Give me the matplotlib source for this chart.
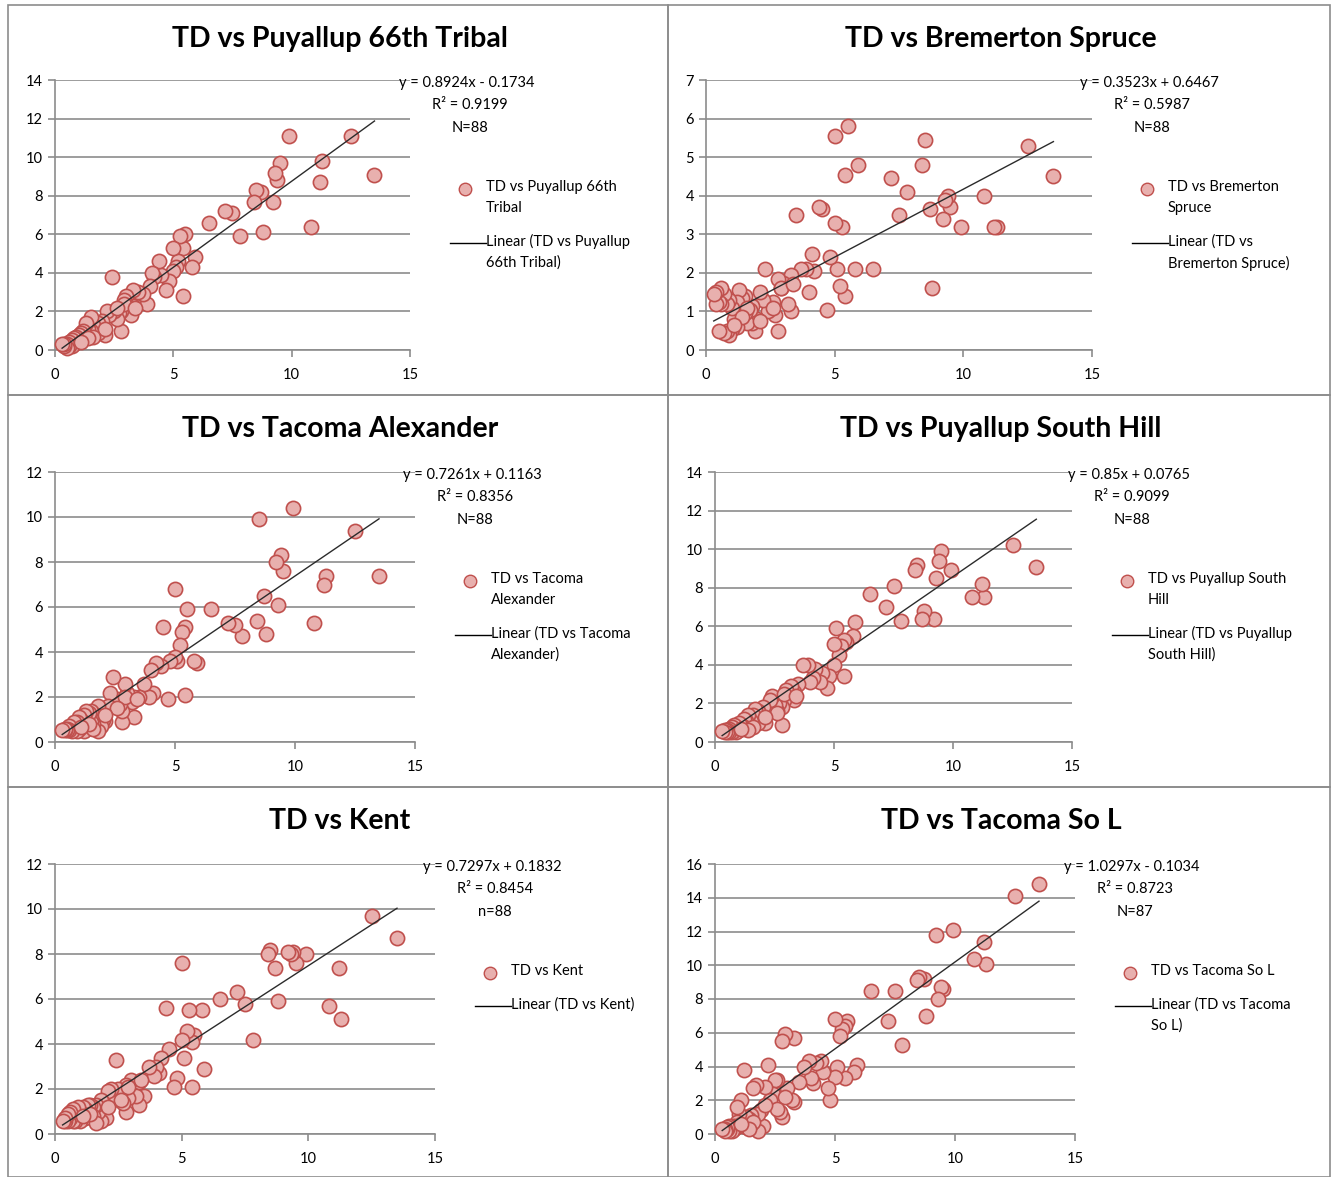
import numpy as np
import matplotlib
matplotlib.use("Agg")
import matplotlib.pyplot as plt
from matplotlib.patches import Rectangle
from matplotlib.lines import Line2D

plt.rcParams['font.family'] = ['Lato', 'DejaVu Sans']

# TD values shared by every station (x axis)
td = [13.5, 12.5, 11.3, 11.2, 10.8, 9.9, 9.5, 9.4, 9.3, 9.2,
      8.8, 8.7, 8.5, 8.4, 7.8, 7.5, 7.2, 6.5, 5.9, 5.8,
      5.5, 5.4, 5.4, 5.3, 5.2, 5.1, 5.0, 5.0, 4.8, 4.7,
      4.5, 4.4, 4.2, 4.1, 4.0, 3.9, 3.7, 3.5, 3.3, 3.3,
      3.2, 3.0, 2.9, 2.8, 2.8, 2.7, 2.6, 2.5, 2.4, 2.3,
      2.2, 2.1, 2.0, 1.9, 1.8, 1.8, 1.7, 1.6, 1.5, 1.5,
      1.4, 1.3, 1.3, 1.2, 1.2, 1.1, 1.0, 1.0, 0.9, 0.9,
      0.8, 0.8, 0.7, 0.7, 0.6, 0.6, 0.5, 0.5, 0.4, 0.4,
      2.9, 2.6, 2.1, 1.6, 1.4, 1.1, 0.3, 3.4]

puyallup_66th = [9.1, 11.1, 9.8, 8.7, 6.4, 11.1, 9.7, 8.8, 9.2, 7.7,
                 6.1, 8.2, 8.3, 7.7, 5.9, 7.1, 7.2, 6.6, 4.8, 4.3,
                 6.0, 5.3, 2.8, 5.9, 4.6, 4.3, 5.3, 4.1, 3.6, 3.1,
                 3.9, 4.6, 3.8, 4.0, 3.3, 2.4, 2.9, 3.0, 3.1, 2.3,
                 1.8, 2.8, 2.6, 1.0, 2.0, 1.9, 1.6, 2.0, 3.8, 1.8,
                 2.0, 0.8, 1.5, 1.2, 0.9, 1.4, 1.1, 1.3, 1.7, 1.0,
                 1.1, 0.8, 1.4, 1.0, 0.6, 0.9, 0.8, 0.5, 0.7, 0.4,
                 0.6, 0.3, 0.5, 0.2, 0.4, 0.2, 0.3, 0.1, 0.2, 0.3,
                 2.4, 2.2, 1.1, 0.7, 0.6, 0.4, 0.3, 2.2]

bremerton_spruce = [4.5, 5.3, 3.2, 3.2, 4.0, 3.2, 3.7, 4.0, 3.9, 3.4,
                    1.6, 3.65, 5.45, 4.8, 4.1, 3.5, 4.45, 2.1, 4.8, 2.1,
                    5.8, 4.55, 1.4, 3.2, 1.65, 2.1, 5.55, 3.3, 2.4, 1.05,
                    3.65, 3.7, 2.05, 2.5, 1.5, 2.1, 2.1, 3.5, 1.95, 1.0,
                    1.2, 1.75, 1.6, 0.5, 1.85, 0.9, 1.25, 1.1, 1.0, 2.1,
                    1.3, 1.5, 0.8, 0.5, 1.15, 0.7, 1.05, 0.7, 1.4, 0.95,
                    1.35, 1.55, 0.9, 1.25, 0.6, 0.8, 1.1, 0.55, 0.4, 1.3,
                    0.5, 1.2, 0.45, 1.45, 1.6, 1.2, 1.25, 0.5, 1.5, 1.2,
                    1.6, 1.1, 0.75, 1.1, 0.85, 0.65, 1.45, 1.7]

tacoma_alexander = [7.4, 9.4, 7.4, 7.0, 5.3, 10.4, 7.6, 8.3, 6.1, 8.0,
                    4.8, 6.5, 9.9, 5.4, 4.7, 5.2, 5.3, 5.9, 3.5, 3.6,
                    5.9, 5.1, 2.1, 4.9, 4.3, 3.6, 6.8, 3.8, 3.6, 1.9,
                    5.1, 3.4, 3.5, 2.2, 3.2, 2.0, 2.6, 2.0, 1.1, 2.0,
                    1.8, 2.2, 2.6, 0.9, 1.4, 1.7, 1.9, 1.8, 2.9, 2.2,
                    1.6, 0.95, 1.0, 0.7, 1.6, 0.5, 1.2, 0.8, 1.4, 0.9,
                    1.3, 1.4, 0.6, 1.2, 0.5, 1.0, 1.1, 0.6, 0.9, 0.5,
                    0.7, 0.9, 0.6, 0.5, 0.7, 0.55, 0.6, 0.55, 0.55, 0.6,
                    2.0, 1.5, 1.2, 0.6, 0.8, 0.65, 0.55, 1.9]

puyallup_south_hill = [9.1, 10.2, 7.5, 8.2, 7.5, 8.9, 9.9, 9.4, 8.5, 6.4,
                       6.8, 6.4, 9.2, 8.9, 6.3, 8.1, 7.0, 7.7, 6.2, 5.5,
                       5.2, 3.4, 5.3, 5.0, 4.5, 5.9, 5.1, 4.0, 3.4, 2.8,
                       3.6, 3.1, 3.8, 3.3, 3.1, 4.0, 4.0, 3.0, 2.6, 2.2,
                       2.9, 2.7, 2.2, 0.9, 1.8, 2.0, 1.6, 1.9, 2.4, 2.2,
                       1.5, 1.0, 1.8, 1.3, 1.6, 1.0, 1.7, 1.4, 1.1, 0.8,
                       1.4, 1.1, 0.7, 1.2, 0.8, 0.9, 1.0, 0.6, 0.8, 0.5,
                       0.9, 0.6, 0.8, 0.5, 0.7, 0.5, 0.6, 0.5, 0.6, 0.5,
                       2.5, 1.5, 1.3, 0.8, 0.6, 0.7, 0.55, 2.4]

kent = [8.7, 9.7, 5.1, 7.4, 5.7, 8.0, 7.6, 8.1, 8.0, 8.1,
        5.9, 7.4, 8.2, 8.0, 4.2, 5.8, 6.3, 6.0, 2.9, 5.5,
        4.4, 2.1, 4.1, 5.5, 4.6, 3.4, 7.6, 4.2, 2.5, 2.1,
        3.8, 5.6, 3.4, 2.7, 3.0, 2.6, 3.0, 1.7, 2.3, 1.3,
        1.7, 2.4, 1.6, 1.0, 2.2, 1.4, 1.9, 2.0, 3.3, 1.5,
        2.0, 1.9, 0.7, 1.4, 1.5, 0.6, 1.0, 1.3, 1.2, 0.8,
        1.3, 1.3, 0.9, 1.1, 0.7, 1.2, 1.0, 0.6, 0.8, 1.2,
        0.9, 0.6, 1.1, 0.6, 1.0, 0.7, 0.6, 0.9, 0.6, 0.7,
        2.1, 1.5, 1.2, 0.5, 0.9, 0.8, 0.6, 2.4]

tacoma_so_l = [14.8, 14.1, 10.1, 11.4, 10.4, 12.1, 8.6, 8.7, 8.0, 11.8,
               7.0, 9.2, 9.3, 9.1, 5.3, 8.5, 6.7, 8.5, 4.1, 3.7,
               6.7, 3.3, 6.4, 6.2, 5.8, 4.0, 6.8, 3.4, 2.0, 2.7,
               3.7, 4.3, 4.2, 3.0, 3.3, 4.3, 4.0, 3.1, 5.7, 1.9,
               2.0, 2.7, 5.9, 5.5, 1.0, 1.3, 3.2, 3.2, 2.4, 2.0,
               4.1, 2.8, 0.5, 1.4, 1.2, 0.2, 2.9, 2.7, 0.6, 1.1,
               0.9, 0.4, 1.0, 3.8, 0.5, 2.0, 1.2, 0.5, 0.7, 1.6,
               0.3, 0.5, 0.4, 0.2, 0.5, 0.2, 0.3, 0.4, 0.3, 0.2,
               2.2, 1.5, 1.7, 0.7, 0.3, 0.6, 0.3, np.nan]

titles = ["TD vs Puyallup 66th Tribal", "TD vs Bremerton Spruce",
          "TD vs Tacoma Alexander", "TD vs Puyallup South Hill",
          "TD vs Kent", "TD vs Tacoma So L"]
series = [puyallup_66th, bremerton_spruce, tacoma_alexander,
          puyallup_south_hill, kent, tacoma_so_l]
slopes = [0.8924, 0.3523, 0.7261, 0.85, 0.7297, 1.0297]
intercepts = [-0.1734, 0.6467, 0.1163, 0.0765, 0.1832, -0.1034]
eq_labels = ["y = 0.8924x - 0.1734", "y = 0.3523x + 0.6467", "y = 0.7261x + 0.1163",
             "y = 0.85x + 0.0765", "y = 0.7297x + 0.1832", "y = 1.0297x - 0.1034"]
r2_labels = ["R² = 0.9199", "R² = 0.5987", "R² = 0.8356",
             "R² = 0.9099", "R² = 0.8454", "R² = 0.8723"]
n_labels = ["N=88", "N=88", "N=88", "N=88", "n=88", "N=87"]
legend_names = ["TD vs Puyallup 66th\nTribal", "TD vs Bremerton\nSpruce",
                "TD vs Tacoma\nAlexander", "TD vs Puyallup South\nHill",
                "TD vs Kent", "TD vs Tacoma So L"]
line_names = ["Linear (TD vs Puyallup\n66th Tribal)", "Linear (TD vs\nBremerton Spruce)",
              "Linear (TD vs Tacoma\nAlexander)", "Linear (TD vs Puyallup\nSouth Hill)",
              "Linear (TD vs Kent)", "Linear (TD vs Tacoma\nSo L)"]
y_max = [14, 7, 12, 14, 12, 16]
y_step = [2, 1, 2, 2, 2, 2]

W, H = 1335, 1177
fig = plt.figure(figsize=(W / 100, H / 100), dpi=100)
fig.patch.set_facecolor("white")

# panel boxes (left, top, right, bottom) in pixels
boxes = [(8, 5, 668, 395), (668, 5, 1330, 395),
         (8, 395, 668, 787), (668, 395, 1330, 787),
         (8, 787, 668, 1177), (668, 787, 1330, 1177)]
# plot areas (x at 0, y top, x at 15, y bottom)
areas = [(55, 80, 410, 350), (706, 80, 1092, 350),
         (55, 472, 415, 742), (715, 472, 1072, 742),
         (55, 864, 435, 1134), (715, 864, 1075, 1134)]

for b in boxes:
    fig.patches.append(Rectangle((b[0] / W, 1 - b[3] / H), (b[2] - b[0]) / W, (b[3] - b[1]) / H,
                                 transform=fig.transFigure, fill=False,
                                 edgecolor="#8c8c8c", linewidth=1.2, zorder=0))

x = np.array(td)
for i in range(6):
    l, t, r, btm = areas[i]
    ax = fig.add_axes([l / W, 1 - btm / H, (r - l) / W, (btm - t) / H])
    y = np.array(series[i], dtype=float)
    ax.scatter(x, y, s=105, facecolor="#e8b0ae", edgecolor="#c0504d",
               linewidth=1.2, zorder=3, clip_on=False)
    xs = np.array([np.nanmin(x), np.nanmax(x)])
    ax.plot(xs, slopes[i] * xs + intercepts[i], color="#2b2b2b", linewidth=1.0, zorder=4)
    ax.set_xlim(0, 15)
    ax.set_ylim(0, y_max[i])
    ax.set_xticks([0, 5, 10, 15])
    ax.set_yticks(np.arange(0, y_max[i] + 0.01, y_step[i]))
    ax.yaxis.grid(True, color="#8c8c8c", linewidth=1.2)
    ax.set_axisbelow(True)
    for s in ["top", "right"]:
        ax.spines[s].set_visible(False)
    for s in ["left", "bottom"]:
        ax.spines[s].set_color("#8c8c8c")
        ax.spines[s].set_linewidth(1.2)
    ax.tick_params(colors="#8c8c8c", labelcolor="black", labelsize=10.5, length=5, width=1.2)
    ax.tick_params(axis="x", pad=8)

    # title
    bl, bt, br, bb = boxes[i]
    cx = (bl + br) / 2 + 2
    fig.text(cx / W, 1 - (bt + 34) / H, titles[i], ha="center", va="center",
             fontsize=20.5, fontweight="bold")

    # trendline label
    lx = r + 57
    fig.text(lx / W, 1 - (t + 3) / H, eq_labels[i], ha="center", va="center", fontsize=10.5)
    fig.text((lx + 3) / W, 1 - (t + 25) / H, r2_labels[i], ha="center", va="center", fontsize=10.5)
    fig.text((lx + 3) / W, 1 - (t + 48) / H, n_labels[i], ha="center", va="center", fontsize=10.5)

    # legend
    mx = r + 55
    my = t + 109
    fig.add_artist(Line2D([mx / W], [1 - my / H], marker="o", markersize=9,
                          markerfacecolor="#e8b0ae", markeredgecolor="#c0504d",
                          linestyle="none", transform=fig.transFigure))
    fig.text((mx + 21) / W, 1 - (my - 9) / H, legend_names[i], ha="left", va="top",
             fontsize=10.5, linespacing=1.6)
    ly = my + 54 if "\n" in legend_names[i] else my + 33
    fig.add_artist(Line2D([(mx - 15) / W, (mx + 21) / W], [1 - ly / H, 1 - ly / H],
                          color="black", linewidth=1.0, transform=fig.transFigure))
    fig.text((mx + 21) / W, 1 - (ly - 9) / H, line_names[i], ha="left", va="top",
             fontsize=10.5, linespacing=1.6)

fig.savefig("out.png", dpi=100)
